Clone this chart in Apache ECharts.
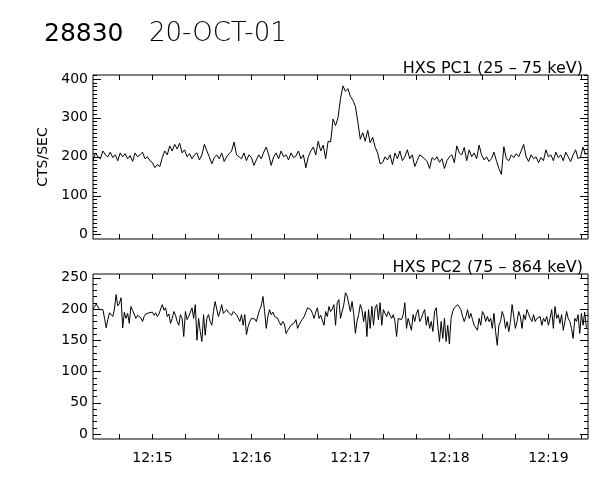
<!DOCTYPE html>
<html>
<head>
<meta charset="utf-8">
<script src="https://cdn.jsdelivr.net/npm/echarts@6/dist/echarts.min.js"></script>
<style>html,body{margin:0;padding:0;background:#fff}#c{width:600px;height:480px}</style>
</head>
<body>
<div id="c"></div>
<script>
// ---- data ----
const startLabel = '12:14:24';
const stepPC1 = 1.5; // seconds per sample
const stepPC2 = 1.0;
const pc1 = [
190,210,200,195,215,205,200,212,198,205,
190,210,200,208,195,203,188,210,200,205,
212,195,200,190,185,172,180,175,198,215,
205,228,215,232,220,235,210,218,200,208,
195,205,210,192,205,232,215,200,182,198,
205,195,210,188,200,208,215,238,205,200,
195,210,190,205,198,178,192,
205,195,212,225,205,178,200,210,195,215,
200,205,192,210,198,202,215,195,205,172,
200,215,225,205,240,215,230,195,240,238,
297,280,300,350,382,368,375,355,345,330,
290,245,262,240,268,236,250,225,210,182,
185,200,192,205,180,210,195,215,190,200,
218,195,205,175,190,205,200,
195,188,170,198,192,200,186,195,170,190,
200,205,185,228,210,205,224,190,218,200,
210,195,230,205,192,200,188,195,212,190,
170,155,226,195,190,205,198,208,200,215,
232,200,188,205,195,200,185,198,190,218,
200,205,190,212,198,205,190,212,200,188,
205,218,195,200,225,205
];
const pc2 = [
200,204,208,206,199,202,199,185,170,183,
194,196,188,200,223,205,209,218,170,195,
185,193,177,204,198,196,185,190,191,186,
180,188,192,190,194,191,195,190,194,188,
192,200,207,198,202,188,192,177,185,196,
190,180,174,191,185,156,196,183,188,191,
202,185,207,150,185,164,148,191,158,185,
191,180,174,196,212,215,188,196,207,193,
190,199,195,193,190,196,194,191,186,180,
191,174,191,159,172,180,185,188,184,180,
190,199,205,220,196,169,188,199,191,195,
188,186,185,178,174,180,176,161,166,169,
174,172,178,183,169,175,180,184,188,195,
202,200,199,193,185,195,202,185,190,191,
174,196,188,204,196,200,207,174,210,
215,185,183,207,226,221,223,196,212,193,
161,180,191,207,199,180,196,156,199,169,
204,174,202,207,183,210,174,199,193,188,
196,193,185,191,180,156,185,188,183,191,
210,169,185,188,166,191,180,193,199,180,
185,193,199,174,188,169,180,164,196,202,
172,148,180,153,185,148,174,144,185,196,
202,204,207,204,199,188,180,188,199,185,
193,183,174,177,166,185,174,196,191,180,
188,180,185,169,193,164,142,174,180,196,
188,169,180,164,180,207,188,169,180,196,
188,169,191,183,199,196,185,180,191,180,
185,183,188,174,185,180,188,174,185,199,
169,204,185,191,177,191,166,180,196,185,
180,169,153,185,180,191,161,193,174,195,
170
];
const timeLabels = ['12:15','12:16','12:17','12:18','12:19'];
const yTicks1 = [0,100,200,300,400];
const yTicks2 = [0,50,100,150,200,250];
const titleId = '28830';
const titleDate = '20-OCT-01';
const name1 = 'HXS PC1 (25 \u2013 75 keV)';
const name2 = 'HXS PC2 (75 \u2013 864 keV)';
const yName = 'CTS/SEC';

// ---- helpers ----
function toSec(s){const p=s.split(':').map(Number);return p[0]*3600+p[1]*60+(p[2]||0);}
const t0 = toSec(startLabel);
const xMaj = timeLabels.map(l => toSec(l) - t0);
const xMin = []; for (let s = 16; s <= 300; s += 20) xMin.push(s);
const y1Min = []; for (let v = 0; v <= 410; v += 10) y1Min.push(v);
const y2Min = []; for (let v = 0; v <= 250; v += 10) y2Min.push(v);
const X0 = 0, X1 = 300;
const FONT = 'DejaVu Sans';
const c = '#000';

function xAx(grid, pos, vals, len, labels){
  return {type:'value', gridIndex:grid, position:pos, min:X0, max:X1,
    axisLine:{show:false, onZero:false}, splitLine:{show:false},
    axisTick:{show:true, inside:false, length:-len, customValues:vals, lineStyle:{color:c,width:1}},
    axisLabel:{show:!!labels, customValues:vals, color:c, fontFamily:FONT, fontSize:14, margin:12,
      formatter: v => { const k = xMaj.indexOf(v); return k>=0 ? timeLabels[k] : ''; }}};
}
function yAx(grid, pos, vals, len, mn, mx, labels, nm){
  const o = {type:'value', gridIndex:grid, position:pos, min:mn, max:mx,
    axisLine:{show:false, onZero:false}, splitLine:{show:false},
    axisTick:{show:true, inside:false, length:-len, customValues:vals, lineStyle:{color:c,width:1}},
    axisLabel:{show:!!labels, customValues:vals, color:c, fontFamily:FONT, fontSize:14, margin:5}};
  if (nm) { o.name = nm; o.nameLocation='middle'; o.nameRotate=90; o.nameGap=41;
    o.nameTextStyle={color:c, fontFamily:FONT, fontSize:14}; }
  return o;
}
const Y1 = [-11, 410], Y2 = [-8, 256];

const option = {
  animation:false,
  backgroundColor:'#fff',
  title:[
    {text:titleId, left:39, top:17, textStyle:{fontFamily:FONT, fontSize:25, fontWeight:'normal', color:c}},
    {text:titleDate, left:144, top:16, textStyle:{fontFamily:FONT, fontSize:26, fontWeight:200, color:c}},
    {text:name1, right:12, top:56, textStyle:{fontFamily:FONT, fontSize:16, fontWeight:'normal', color:c}},
    {text:name2, right:12, top:255, textStyle:{fontFamily:FONT, fontSize:16, fontWeight:'normal', color:c}}
  ],
  grid:[
    {left:93, right:12, top:75, height:164, show:true, borderColor:c, borderWidth:1, backgroundColor:'transparent'},
    {left:93, right:12, top:274, height:165, show:true, borderColor:c, borderWidth:1, backgroundColor:'transparent'}
  ],
  xAxis:[
    xAx(0,'bottom',xMaj,5,false), xAx(0,'bottom',xMin,5,false),
    xAx(0,'top',xMaj,5,false), xAx(0,'top',xMin,5,false),
    xAx(1,'bottom',xMaj,5,true), xAx(1,'bottom',xMin,5,false),
    xAx(1,'top',xMaj,5,false), xAx(1,'top',xMin,5,false)
  ],
  yAxis:[
    yAx(0,'left',yTicks1,8,Y1[0],Y1[1],true,yName), yAx(0,'left',y1Min,4,Y1[0],Y1[1],false),
    yAx(0,'right',yTicks1,8,Y1[0],Y1[1],false), yAx(0,'right',y1Min,4,Y1[0],Y1[1],false),
    yAx(1,'left',yTicks2,8,Y2[0],Y2[1],true), yAx(1,'left',y2Min,4,Y2[0],Y2[1],false),
    yAx(1,'right',yTicks2,8,Y2[0],Y2[1],false), yAx(1,'right',y2Min,4,Y2[0],Y2[1],false)
  ],
  series:[
    {type:'line', xAxisIndex:0, yAxisIndex:0, showSymbol:false, silent:true,
     lineStyle:{color:c, width:1}, data: pc1.map((v,i)=>[i*stepPC1, v])},
    {type:'line', xAxisIndex:4, yAxisIndex:4, showSymbol:false, silent:true,
     lineStyle:{color:c, width:1}, data: pc2.map((v,i)=>[i*stepPC2, v])}
  ]
};
const chart = echarts.init(document.getElementById('c'), null, {renderer:'canvas'});
chart.setOption(option);
</script>
</body>
</html>
